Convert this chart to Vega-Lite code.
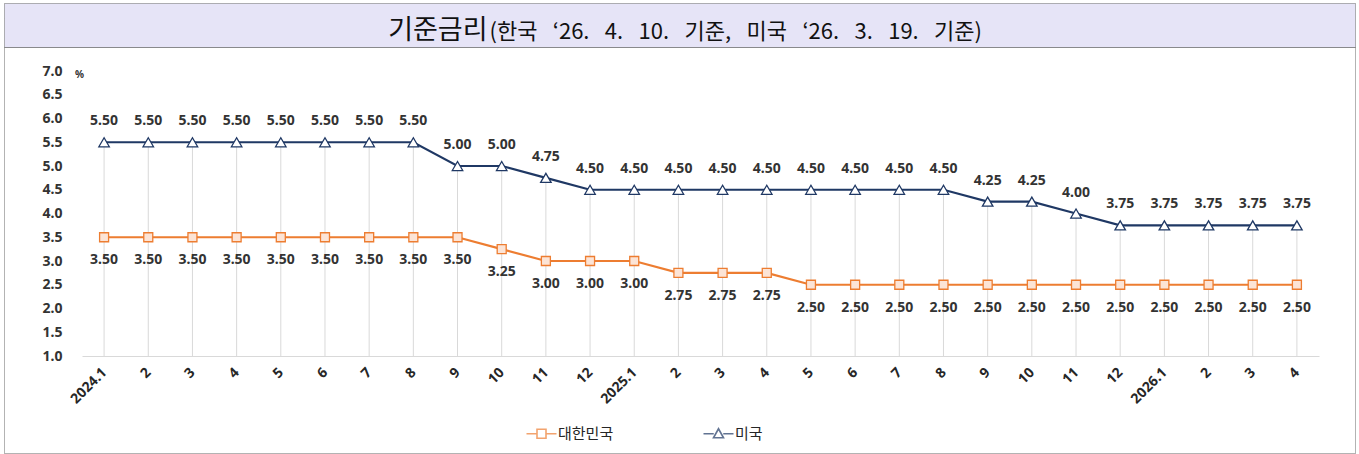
{
  "$schema": "https://vega.github.io/schema/vega-lite/v6.json",
  "background": "white",
  "padding": {"left": 3, "top": 2, "right": 5, "bottom": 0},
  "spacing": 0,
  "bounds": "flush",
  "config": {"font": "Noto Sans CJK KR"},
  "vconcat": [
    {
      "width": 1351,
      "height": 44,
      "data": {"values": [{}]},
      "view": {"fill": "#E6E4F7", "stroke": "#666666", "strokeDash": [1, 1]},
      "layer": [
        {"mark": {"type": "text", "text": "기준금리", "align": "right", "baseline": "middle", "dx": -192, "dy": 6, "font": "Noto Sans CJK KR", "fontSize": 27, "fill": "#111111"}},
        {"mark": {"type": "text", "text": "(한국\u2002\u2009‘26.\u2002\u20094.\u2002\u200910.\u2002\u2009기준,\u2002\u2009미국\u2002\u2009‘26.\u2002\u20093.\u2002\u200919.\u2002\u2009기준)", "align": "left", "baseline": "middle", "dx": -190, "dy": 7, "font": "Noto Sans CJK KR", "fontSize": 22, "fill": "#111111"}}
      ]
    },
    {
      "width": 1351,
      "height": 406,
      "view": {"stroke": "#666666", "strokeDash": [1, 1]},
      "data": {"values": [
        {"m": "2024.1", "country": "대한민국", "rate": 3.5},
        {"m": "2024.2", "country": "대한민국", "rate": 3.5},
        {"m": "2024.3", "country": "대한민국", "rate": 3.5},
        {"m": "2024.4", "country": "대한민국", "rate": 3.5},
        {"m": "2024.5", "country": "대한민국", "rate": 3.5},
        {"m": "2024.6", "country": "대한민국", "rate": 3.5},
        {"m": "2024.7", "country": "대한민국", "rate": 3.5},
        {"m": "2024.8", "country": "대한민국", "rate": 3.5},
        {"m": "2024.9", "country": "대한민국", "rate": 3.5},
        {"m": "2024.10", "country": "대한민국", "rate": 3.25},
        {"m": "2024.11", "country": "대한민국", "rate": 3.0},
        {"m": "2024.12", "country": "대한민국", "rate": 3.0},
        {"m": "2025.1", "country": "대한민국", "rate": 3.0},
        {"m": "2025.2", "country": "대한민국", "rate": 2.75},
        {"m": "2025.3", "country": "대한민국", "rate": 2.75},
        {"m": "2025.4", "country": "대한민국", "rate": 2.75},
        {"m": "2025.5", "country": "대한민국", "rate": 2.5},
        {"m": "2025.6", "country": "대한민국", "rate": 2.5},
        {"m": "2025.7", "country": "대한민국", "rate": 2.5},
        {"m": "2025.8", "country": "대한민국", "rate": 2.5},
        {"m": "2025.9", "country": "대한민국", "rate": 2.5},
        {"m": "2025.10", "country": "대한민국", "rate": 2.5},
        {"m": "2025.11", "country": "대한민국", "rate": 2.5},
        {"m": "2025.12", "country": "대한민국", "rate": 2.5},
        {"m": "2026.1", "country": "대한민국", "rate": 2.5},
        {"m": "2026.2", "country": "대한민국", "rate": 2.5},
        {"m": "2026.3", "country": "대한민국", "rate": 2.5},
        {"m": "2026.4", "country": "대한민국", "rate": 2.5},
        {"m": "2024.1", "country": "미국", "rate": 5.5},
        {"m": "2024.2", "country": "미국", "rate": 5.5},
        {"m": "2024.3", "country": "미국", "rate": 5.5},
        {"m": "2024.4", "country": "미국", "rate": 5.5},
        {"m": "2024.5", "country": "미국", "rate": 5.5},
        {"m": "2024.6", "country": "미국", "rate": 5.5},
        {"m": "2024.7", "country": "미국", "rate": 5.5},
        {"m": "2024.8", "country": "미국", "rate": 5.5},
        {"m": "2024.9", "country": "미국", "rate": 5.0},
        {"m": "2024.10", "country": "미국", "rate": 5.0},
        {"m": "2024.11", "country": "미국", "rate": 4.75},
        {"m": "2024.12", "country": "미국", "rate": 4.5},
        {"m": "2025.1", "country": "미국", "rate": 4.5},
        {"m": "2025.2", "country": "미국", "rate": 4.5},
        {"m": "2025.3", "country": "미국", "rate": 4.5},
        {"m": "2025.4", "country": "미국", "rate": 4.5},
        {"m": "2025.5", "country": "미국", "rate": 4.5},
        {"m": "2025.6", "country": "미국", "rate": 4.5},
        {"m": "2025.7", "country": "미국", "rate": 4.5},
        {"m": "2025.8", "country": "미국", "rate": 4.5},
        {"m": "2025.9", "country": "미국", "rate": 4.25},
        {"m": "2025.10", "country": "미국", "rate": 4.25},
        {"m": "2025.11", "country": "미국", "rate": 4.0},
        {"m": "2025.12", "country": "미국", "rate": 3.75},
        {"m": "2026.1", "country": "미국", "rate": 3.75},
        {"m": "2026.2", "country": "미국", "rate": 3.75},
        {"m": "2026.3", "country": "미국", "rate": 3.75},
        {"m": "2026.4", "country": "미국", "rate": 3.75}
      ]},
      "encoding": {
        "x": {
          "field": "m", "type": "ordinal", "sort": null,
          "scale": {"type": "point", "range": [78, 1315], "padding": 0.5},
          "axis": {
            "orient": "bottom", "offset": -97, "title": null,
            "labelAngle": -45, "labelAlign": "right", "labelBaseline": "middle",
            "labelExpr": "split(datum.value, '.')[1] == '1' ? datum.value : split(datum.value, '.')[1]",
            "labelOverlap": false, "labelPadding": 14,
            "labelFont": "Noto Sans", "labelFontWeight": "bold", "labelFontSize": 14, "labelColor": "#262626",
            "domainColor": "#D9D9D9", "domainWidth": 1, "ticks": false, "tickSize": 0, "grid": false
          }
        },
        "y": {
          "field": "rate", "type": "quantitative",
          "scale": {"domain": [1, 7], "range": [309, 24], "zero": false, "nice": false},
          "axis": {
            "orient": "left", "offset": -78,
            "values": [1, 1.5, 2, 2.5, 3, 3.5, 4, 4.5, 5, 5.5, 6, 6.5, 7],
            "format": ".1f", "domain": false, "ticks": false, "tickSize": 0, "grid": false,
            "labelPadding": 20, "labelFont": "Noto Sans", "labelFontWeight": "bold", "labelFontSize": 14, "labelColor": "#333333",
            "title": "%", "titleAngle": 0, "titleX": -3, "titleY": 27, "titleAlign": "center", "titleBaseline": "middle",
            "titleFont": "Noto Sans", "titleFontSize": 10, "titleFontWeight": "bold", "titleColor": "#333333"
          }
        }
      },
      "layer": [
        {
          "transform": [{"filter": "datum.country == '미국'"}],
          "mark": {"type": "rule", "color": "#D9D9D9", "strokeWidth": 1},
          "encoding": {"y2": {"datum": 1}}
        },
        {
          "transform": [{"filter": "datum.country == '대한민국'"}],
          "mark": {"type": "line", "color": "#ED7D31", "strokeWidth": 2.2},
          "encoding": {}
        },
        {
          "transform": [{"filter": "datum.country == '미국'"}],
          "mark": {"type": "line", "color": "#1F3864", "strokeWidth": 2.2},
          "encoding": {}
        },
        {
          "transform": [{"filter": "datum.country == '대한민국'"}],
          "mark": {"type": "point", "shape": "square", "filled": true, "fill": "#FCE4D6", "stroke": "#ED7D31", "strokeWidth": 1.3, "size": 81, "opacity": 1}
        },
        {
          "transform": [{"filter": "datum.country == '미국'"}],
          "mark": {"type": "point", "shape": "triangle-up", "filled": true, "fill": "#FFFFFF", "stroke": "#1F3864", "strokeWidth": 1.3, "size": 110, "opacity": 1}
        },
        {
          "transform": [{"filter": "datum.country == '대한민국'"}],
          "mark": {"type": "text", "dy": 23, "font": "Noto Sans", "fontWeight": "bold", "fontSize": 14, "fill": "#333333"},
          "encoding": {"text": {"field": "rate", "type": "quantitative", "format": ".2f"}}
        },
        {
          "transform": [{"filter": "datum.country == '미국'"}],
          "mark": {"type": "text", "dy": -21, "font": "Noto Sans", "fontWeight": "bold", "fontSize": 14, "fill": "#333333"},
          "encoding": {"text": {"field": "rate", "type": "quantitative", "format": ".2f"}}
        },
        {
          "transform": [{"filter": "false"}],
          "mark": {"type": "point", "filled": false, "fill": "white", "strokeWidth": 1.6},
          "encoding": {
            "color": {
              "field": "country", "type": "nominal",
              "scale": {"domain": ["대한민국", "미국"], "range": ["#ED7D31", "#1F3864"]},
              "legend": {"title": null, "orient": "none", "legendX": 530, "legendY": 423, "direction": "horizontal", "columnPadding": 86, "symbolSize": 100, "symbolStrokeWidth": 1.6, "symbolFillColor": "white", "labelFont": "Noto Sans CJK KR", "labelFontSize": 15, "labelColor": "#262626", "labelOffset": 9, "padding": 0}
            },
            "shape": {
              "field": "country", "type": "nominal",
              "scale": {"domain": ["대한민국", "미국"], "range": ["M-3,0H-0.9M0.9,0H3M-0.9,-0.9H0.9V0.9H-0.9Z", "M-3,0H-0.95M0.95,0H3M0,-1L1,0.8H-1Z"]},
              "legend": {"title": null, "orient": "none", "legendX": 530, "legendY": 423, "direction": "horizontal", "columnPadding": 86, "symbolSize": 100, "symbolStrokeWidth": 1.6, "symbolFillColor": "white", "labelFont": "Noto Sans CJK KR", "labelFontSize": 15, "labelColor": "#262626", "labelOffset": 9, "padding": 0}
            }
          }
        }
      ]
    }
  ]
}
